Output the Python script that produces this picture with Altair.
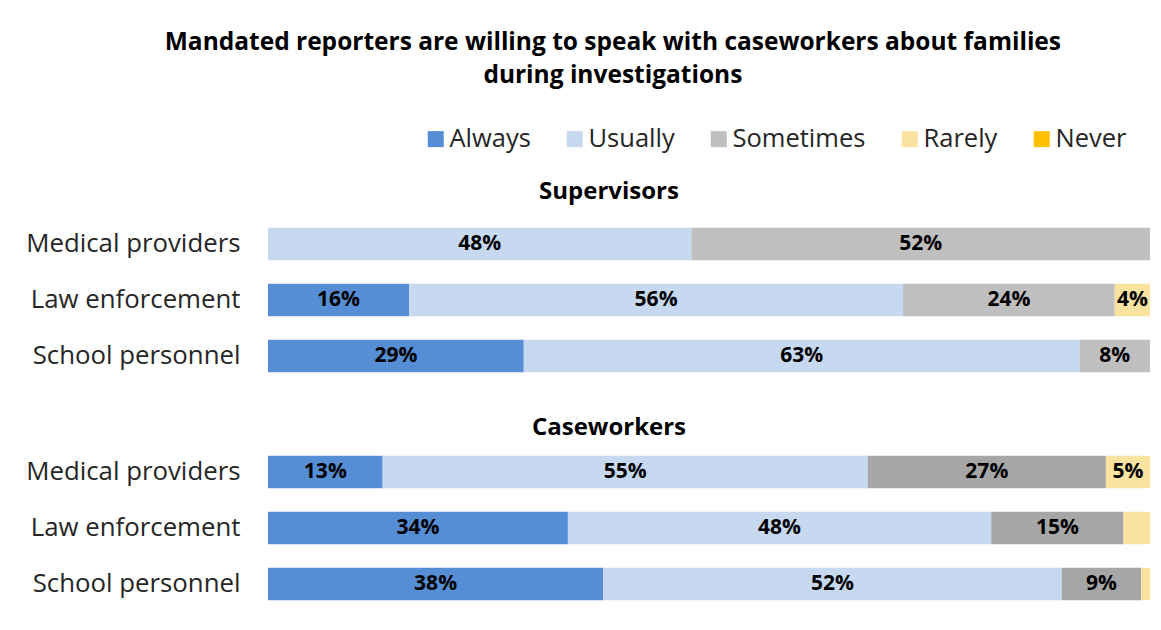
import altair as alt
import pandas as pd

FONT = "Open Sans"

categories = ["Medical providers", "Law enforcement", "School personnel"]
groups = ["Supervisors", "Caseworkers"]
responses = ["Always", "Usually", "Sometimes", "Rarely", "Never"]

sup_always = [0, 16, 29]
sup_usually = [48, 56, 63]
sup_sometimes = [52, 24, 8]
sup_rarely = [0, 4, 0]
sup_never = [0, 0, 0]

cw_always = [13, 34, 38]
cw_usually = [55, 48, 52]
cw_sometimes = [27, 15, 9]
cw_rarely = [5, 3, 1]
cw_never = [0, 0, 0]

color_keys = ["Always", "Usually", "Sometimes", "Rarely", "Never", "Sometimes (CW)"]
color_values = ["#558ED5", "#C6D9F1", "#BFBFBF", "#FAE3A0", "#FFC000", "#A6A6A6"]

series = {
    "Supervisors": [sup_always, sup_usually, sup_sometimes, sup_rarely, sup_never],
    "Caseworkers": [cw_always, cw_usually, cw_sometimes, cw_rarely, cw_never],
}

rows = []
for g in groups:
    vals = series[g]
    for i, cat in enumerate(categories):
        start = 0
        for k, resp in enumerate(responses):
            v = vals[k][i]
            key = "Sometimes (CW)" if (g == "Caseworkers" and resp == "Sometimes") else resp
            rows.append(dict(group=g, category=cat, response=resp, key=key, order=k,
                             value=v, x0=start, x1=start + v, mid=start + v / 2,
                             label=f"{v}%"))
            start += v
df = pd.DataFrame(rows)

color_scale = alt.Scale(domain=color_keys, range=color_values)


def panel(g, show_legend, title_offset):
    d = df[(df.group == g) & (df.value > 0)]
    base = alt.Chart(d)
    yenc = alt.Y("category:N", sort=categories,
                 scale=alt.Scale(paddingInner=0.42, paddingOuter=0.21),
                 axis=alt.Axis(title=None, domain=False, ticks=False, labelFontSize=25.8,
                               labelFont=FONT, labelColor="#262626", labelPadding=28,
                               labelLimit=400))
    if show_legend:
        legend = alt.Legend(title=None, orient="none", legendX=155, legendY=-90,
                            direction="horizontal", values=responses, symbolType="square",
                            symbolSize=256, symbolStrokeWidth=0, labelFontSize=25.5,
                            labelFont=FONT, labelColor="#262626", labelOffset=1,
                            columnPadding=31, labelLimit=400)
    else:
        legend = None
    bars = base.mark_bar().encode(
        y=yenc,
        x=alt.X("x0:Q", scale=alt.Scale(domain=[0, 100], nice=False), axis=None),
        x2="x1:Q",
        color=alt.Color("key:N", scale=color_scale, legend=legend),
    )
    text = base.transform_filter("datum.value >= 4").mark_text(
        font=FONT, fontSize=21, fontWeight="bold", color="#000000"
    ).encode(
        y=alt.Y("category:N", sort=categories),
        x=alt.X("mid:Q"),
        text="label:N",
    )
    return alt.layer(bars, text).properties(
        width=882, height=168,
        title=alt.TitleParams(g, fontSize=24, fontWeight="bold", font=FONT, color="#000000",
                              anchor="middle", frame="group", dx=-100, offset=title_offset),
    )


chart = alt.vconcat(
    panel("Supervisors", True, 12),
    panel("Caseworkers", False, 4),
    spacing=32,
).properties(
    title=alt.TitleParams(
        ["Mandated reporters are willing to speak with caseworkers about families",
         "during investigations"],
        fontSize=24.5, fontWeight="bold", font=FONT, color="#000000", anchor="middle",
        lineHeight=33, offset=38, dx=25),
    padding={"left": 17, "top": 21, "right": 0, "bottom": 5},
    background="white",
).configure_view(stroke=None)

chart.save("out.html", embed_options={"renderer": "svg", "actions": False})
